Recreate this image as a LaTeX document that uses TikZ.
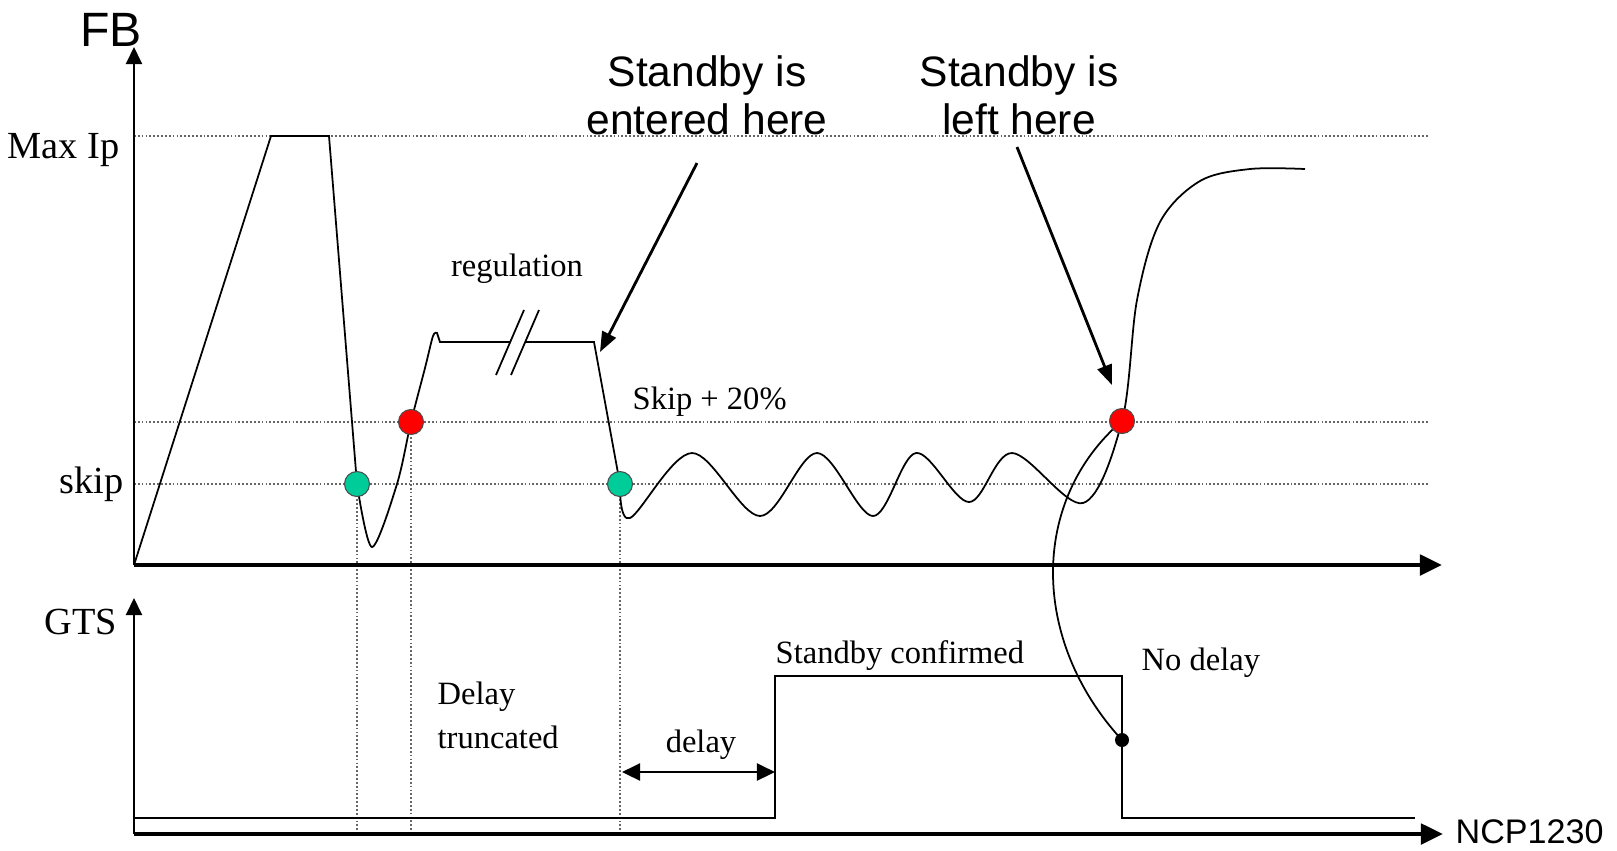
\documentclass[tikz,border=0pt]{standalone}
\usepackage{fontspec}
\setmainfont{Liberation Serif}
\setsansfont{Liberation Sans}
\usepackage{tikz}
\usetikzlibrary{arrows.meta}
\definecolor{skipgreen}{RGB}{0,204,153}
\definecolor{leavered}{RGB}{255,0,0}
\tikzset{
  axis/.style={line width=1.4pt, -{Triangle[length=0.22cm,width=0.2cm]}},
  yaxis/.style={line width=0.6pt, -{Triangle[length=0.17cm,width=0.16cm]}},
  level/.style={black!60, line width=0.45pt, dash pattern=on 0.5pt off 0.6pt},
  trace/.style={line width=0.5pt},
  pointer/.style={line width=0.8pt, -{Triangle[length=0.2cm,width=0.15cm]}},
  dot/.style={circle, draw=black!70, line width=0.3pt, minimum size=0.25cm, inner sep=0pt},
  serif/.style={font=\fontsize{9.25}{12.5}\selectfont, inner sep=0pt},
  axlabel/.style={font=\fontsize{10.9}{13}\selectfont, inner sep=0pt},
  callout/.style={font=\sffamily\fontsize{12.1}{13.66}\selectfont, align=center, inner sep=0pt},
}

\begin{document}
\begin{tikzpicture}[x=0.01cm, y=-0.01cm]
  \useasboundingbox (0,0) rectangle (1617,850);

  % Points
  \coordinate (O) at (134,565);
  \coordinate (G) at (134,834);
  \coordinate (sk1) at (357,484);
  \coordinate (up1) at (411,422);
  \coordinate (sk2) at (620,484);
  \coordinate (up2) at (1122,421);
  \coordinate (nd) at (1122,740);

  % Levels
  \draw[level] (134,136) -- (1428,136);
  \draw[level] (134,422) -- (1428,422);
  \draw[level] (134,484) -- (1428,484);
  \draw[level] (sk1) -- (sk1 |- G);
  \draw[level] (up1) -- (up1 |- G);
  \draw[level] (sk2) -- (sk2 |- G);

  % Axes
  \draw[yaxis] (O) -- (134,47);
  \draw[axis] (O) -- (1442,565);
  \draw[yaxis] (G) -- (134,598);
  \draw[axis] (G) -- (1443,834);

  % FB trace
  \draw[trace] (O) -- (271,136) -- (329,136) -- (sk1);
  \draw[trace] plot[smooth, tension=0.5] coordinates {(357,484) (372,547) (397,484) (411,422) (425,368) (433,336) (437,333)}
    -- (440,342) -- (510,342) (525,342) -- (594,342) -- (sk2);
  \draw[trace] (496,375) -- (524,310) (511,375) -- (539,310);
  \draw[trace] plot[smooth, tension=0.55] coordinates {(620,484) (630,518) (692,453) (760,516) (817,453)
    (873,516) (916,453) (969,502) (1012,453) (1083,503) (1122,421) (1137,300) (1160,222) (1200,181)
    (1250,169) (1305,169)};
  \draw[trace] (up2) .. controls (1030,500) and (1030,640) .. (nd);

  % GTS trace
  \draw[line width=0.6pt] (134,818) -- (775,818) -- (775,676) -- (1122,676) -- (1122,818) -- (1415,818);
  \draw[line width=0.6pt, {Triangle[length=0.18cm,width=0.17cm]}-{Triangle[length=0.18cm,width=0.17cm]}]
    (622,772) -- (775,772);

  % Dots
  \node[dot, fill=skipgreen] (sk1dot) at (sk1) {};
  \node[dot, fill=leavered] (up1dot) at (up1) {};
  \node[dot, fill=skipgreen] (sk2dot) at (sk2) {};
  \node[dot, fill=leavered] (up2dot) at (up2) {};
  \node[circle, fill=black, minimum size=0.14cm, inner sep=0pt] (nddot) at (nd) {};

  % Labels
  \node[font=\sffamily\fontsize{13.7}{16}\selectfont, inner sep=0pt] (fb) at (111,30) {FB};
  \node[axlabel, anchor=base east] (maxip) at (120,158) {Max Ip};
  \node[axlabel, anchor=base east] (skip) at (124,493) {skip};
  \node[axlabel, anchor=base east] (gts) at (118,634) {GTS};
  \node[serif, anchor=base] (regul) at (517,276) {regulation};
  \node[serif, anchor=base west] (skip20) at (632,409) {Skip + 20\%};
  \node[serif, anchor=base west] (confirmed) at (775,663) {Standby confirmed};
  \node[serif, anchor=base west] (nodelay) at (1141,670) {No delay};
  \node[serif, anchor=north west, align=left] (truncated) at (437,681) {Delay\\truncated};
  \node[serif, anchor=base] (delay) at (701,752) {delay};
  \node[font=\sffamily\fontsize{9.7}{12}\selectfont, anchor=base west, inner sep=0pt] (ncp) at (1455,843) {NCP1230};
  \node[callout, anchor=south] (enter) at (707,136) {Standby is\\entered here};
  \node[callout, anchor=south] (leave) at (1019,136) {Standby is\\left here};

  % Pointers
  \draw[pointer] ([xshift=-0.1cm, yshift=-0.27cm]enter.south) -- (600,352);
  \draw[pointer] ([xshift=-0.02cm, yshift=-0.11cm]leave.south) -- (1112,385);
\end{tikzpicture}
\end{document}
